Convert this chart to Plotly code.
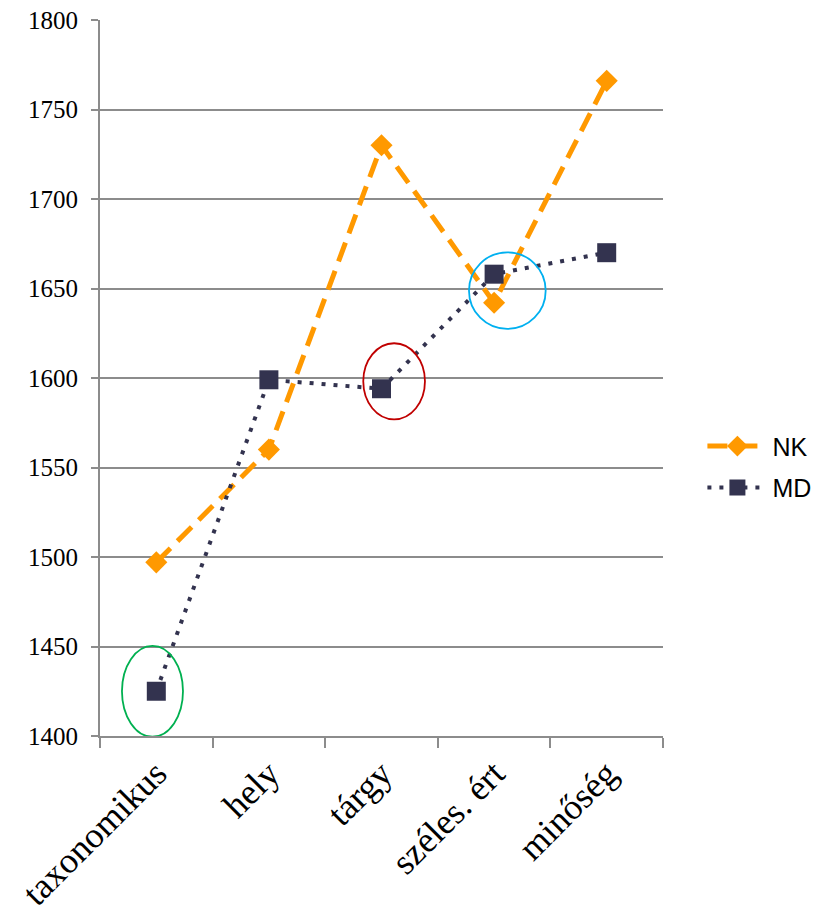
import plotly.graph_objects as go

categories = ["taxonomikus", "hely", "tárgy", "széles. ért", "minőség"]
nk_values = [1497, 1560, 1730, 1642, 1766]
md_values = [1425, 1599, 1594, 1658, 1670]
y_ticks = [1400, 1450, 1500, 1550, 1600, 1650, 1700, 1750, 1800]

fig = go.Figure()
fig.add_trace(go.Scatter(
    x=categories, y=nk_values, name="NK", mode="lines+markers", legendgroup="a",
    line=dict(color="#FF9900", width=5, dash="20px,10px"),
    marker=dict(symbol="diamond", size=17, color="#FF9900"),
))
fig.add_trace(go.Scatter(
    x=categories, y=md_values, name="MD", mode="lines+markers", legendgroup="b",
    line=dict(color="#33334F", width=4, dash="4px,8px"),
    marker=dict(symbol="square", size=19, color="#33334F"),
))

ellipses = [
    (-0.305, 1399.6, 0.237, 1450.3, "#00B050"),
    (1.838, 1576.9, 2.386, 1619.4, "#C00000"),
    (2.777, 1627.4, 3.458, 1670.2, "#00B0F0"),
]
for x0, y0, x1, y1, c in ellipses:
    fig.add_shape(type="circle", xref="x", yref="y", x0=x0, y0=y0, x1=x1, y1=y1,
                  line=dict(color=c, width=1.8), layer="above")

fig.update_layout(
    width=836, height=917,
    margin=dict(l=92, r=181, t=12, b=189),
    paper_bgcolor="white", plot_bgcolor="white",
    showlegend=True,
    legend=dict(x=1.07, y=0.376, xanchor="left", yanchor="middle",
                font=dict(family="Liberation Sans", size=25, color="black"),
                itemwidth=60, tracegroupgap=6, traceorder="grouped"),
    xaxis=dict(
        type="category", range=[-0.5, 4.5], automargin=False,
        showgrid=False, showline=True, linecolor="#8C8C8C", linewidth=2,
        ticks="outside", tickson="boundaries", ticklen=10, tickcolor="#8C8C8C", tickwidth=2,
        tickangle=-45,
        tickfont=dict(family="Liberation Serif", size=36, color="black"),
    ),
    yaxis=dict(
        range=[1400, 1800], tickvals=y_ticks, automargin=False,
        ticklabeloverflow="allow", ticklabelstandoff=8,
        showgrid=True, gridcolor="#8C8C8C", gridwidth=2,
        showline=True, linecolor="#8C8C8C", linewidth=2,
        ticks="outside", ticklen=7, tickcolor="#8C8C8C", tickwidth=2,
        zeroline=False,
        tickfont=dict(family="Liberation Serif", size=25, color="black"),
    ),
)

fig.write_html("out.html")
